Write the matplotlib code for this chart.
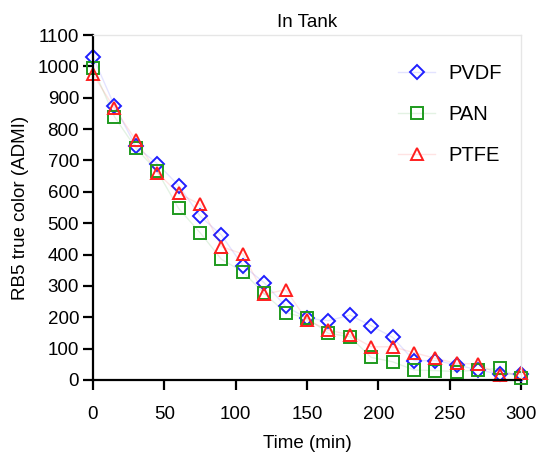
import numpy as np
import matplotlib
matplotlib.use("Agg")
import matplotlib.pyplot as plt
from matplotlib.colors import to_rgba

plt.rcParams['font.family'] = ['Liberation Sans', 'DejaVu Sans']

# sampling times (min)
time_min = [0, 15, 30, 45, 60, 75, 90, 105, 120, 135, 150,
            165, 180, 195, 210, 225, 240, 255, 270, 285, 300]

# RB5 true colour (ADMI) per membrane
pvdf = [1030, 875, 745, 690, 620, 523, 462, 365, 310, 235, 197,
        189, 207, 173, 136, 62, 62, 48, 32, 19, 19]
pan = [996, 840, 739, 666, 547, 470, 385, 345, 276, 215, 197,
       149, 138, 72, 58, 32, 30, 27, 32, 37, 5]
ptfe = [975, 866, 765, 661, 595, 560, 425, 402, 273, 288, 191,
        159, 144, 106, 106, 87, 69, 53, 51, 16, 23]

series = [
    ("PVDF", pvdf, "D", "#1f1fff", 7),
    ("PAN", pan, "s", "#1e9a1e", 8),
    ("PTFE", ptfe, "^", "#ff1f1f", 9),
]

fs = 13.5
fig = plt.figure(figsize=(5.38, 4.57), dpi=100)
ax = fig.add_axes([93 / 538, 1 - 380 / 457, 428 / 538, 345 / 457])

for name, vals, mk, col, ms in series:
    # faint connecting line, solid open markers
    ax.plot(time_min, vals, color=to_rgba(col, 0.12), lw=1.0,
            marker=mk, markersize=ms, markerfacecolor="none",
            markeredgecolor=col, markeredgewidth=1.4, clip_on=False,
            label=name)

ax.set_xlim(0, 300)
ax.set_ylim(0, 1100)
ax.set_xticks(np.arange(0, 301, 50))
ax.set_yticks(np.arange(0, 1101, 100))

for side in ("top", "right"):
    ax.spines[side].set_color("#e6e6e6")
    ax.spines[side].set_linewidth(1.0)
for side in ("left", "bottom"):
    ax.spines[side].set_linewidth(1.6)
ax.tick_params(axis="both", direction="out", length=7, width=1.6,
               labelsize=fs, top=False, right=False)
ax.tick_params(axis="x", pad=12)
ax.tick_params(axis="y", pad=3)

ax.set_title("In Tank", fontsize=fs, pad=6)
ax.set_xlabel("Time (min)", fontsize=fs, labelpad=8)
ax.set_ylabel("RB5 true color (ADMI)", fontsize=fs, labelpad=6)

ax.legend(loc="upper left", bbox_to_anchor=(0.713, 0.917), frameon=False,
          fontsize=14.5, handlelength=1.85, labelspacing=1.1,
          handletextpad=0.65, borderaxespad=0.0, borderpad=0.0)

fig.savefig("out.png", dpi=100)
